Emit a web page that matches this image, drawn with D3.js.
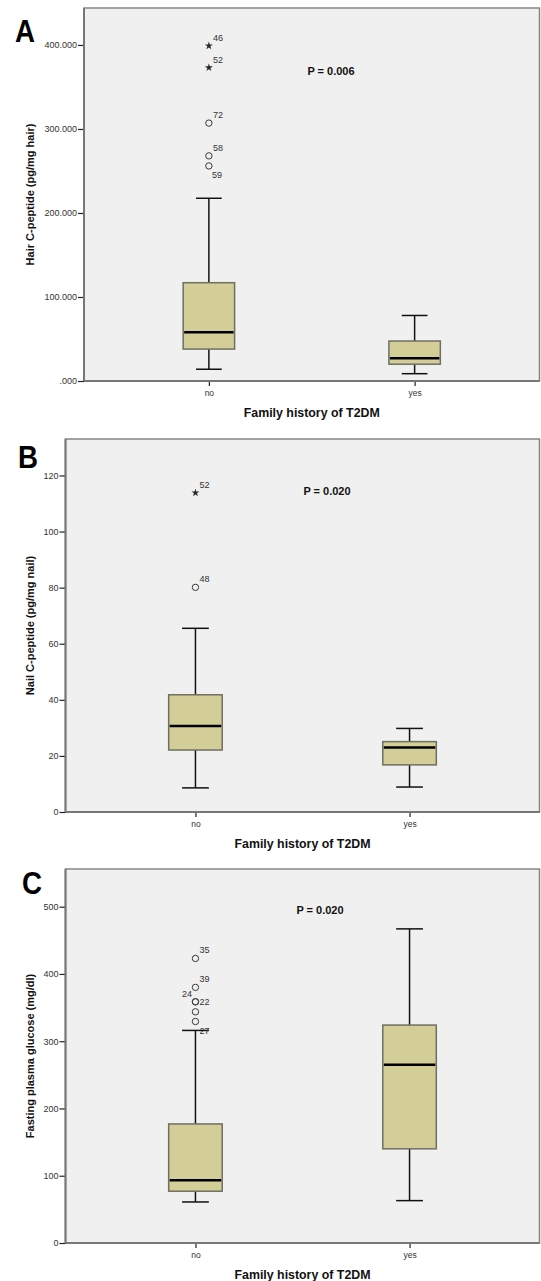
<!DOCTYPE html>
<html>
<head>
<meta charset="utf-8">
<script src="https://cdn.jsdelivr.net/npm/d3@7"></script>
<style>
  body { margin: 0; background: #fff; }
  svg { display: block; font-family: "Liberation Sans", Arial, sans-serif; }
</style>
</head>
<body>
<svg id="chart" width="541" height="1281"></svg>
<script>
const groups = ["no", "yes"];

// [lower whisker, Q1, median, Q3, upper whisker] for "no" and "yes"
const hairBoxes = [[14, 38, 58, 117, 217.5], [8.7, 20, 27, 47.6, 78]];
const hairOutliers = [
  { group: "no", id: "46", value: 399, shape: "star" },
  { group: "no", id: "52", value: 373, shape: "star" },
  { group: "no", id: "72", value: 307, shape: "circle" },
  { group: "no", id: "58", value: 268, shape: "circle" },
  { group: "no", id: "59", value: 256, shape: "circle" }
];
const hairTicks = [0, 100, 200, 300, 400];
const hairMax = 444;

const nailBoxes = [[8.6, 22.1, 30.7, 41.8, 65.5], [8.9, 16.8, 23, 25.1, 29.8]];
const nailOutliers = [
  { group: "no", id: "52", value: 113.8, shape: "star" },
  { group: "no", id: "48", value: 80.1, shape: "circle" }
];
const nailTicks = [0, 20, 40, 60, 80, 100, 120];
const nailMax = 133;

const glucoseBoxes = [[61, 77, 93.3, 177, 316], [63, 140, 265, 324, 467]];
const glucoseOutliers = [
  { group: "no", id: "35", value: 423, shape: "circle" },
  { group: "no", id: "39", value: 380, shape: "circle" },
  { group: "no", id: "24", value: 358.6, shape: "circle" },
  { group: "no", id: "22", value: 358.6, shape: "circle" },
  { group: "no", id: "", value: 343.7, shape: "circle" },
  { group: "no", id: "", value: 329.3, shape: "circle" },
  { group: "no", id: "27", value: 316.5, shape: "none" }
];
const glucoseTicks = [0, 100, 200, 300, 400, 500];
const glucoseMax = 556;

const pValues = ["P = 0.006", "P = 0.020", "P = 0.020"];
const yTitles = ["Hair C-peptide (pg/mg hair)", "Nail C-peptide (pg/mg nail)", "Fasting plasma glucose (mg/dl)"];
const xTitle = "Family history of T2DM";

const svg = d3.select("#chart");

const spssFmt = d => d3.format(".3f")(d).replace(/^0/, "");

const panels = [
  { letter: "A", boxes: hairBoxes, outliers: hairOutliers, ticks: hairTicks, max: hairMax, fmt: spssFmt,
    left: 84, top: 8, bottom: 381, pX: 331, pY: 74.5, lx: 15, ly: 42 },
  { letter: "B", boxes: nailBoxes, outliers: nailOutliers, ticks: nailTicks, max: nailMax, fmt: d3.format("d"),
    left: 65.5, top: 439, bottom: 812, pX: 327, pY: 495, lx: 18, ly: 468 },
  { letter: "C", boxes: glucoseBoxes, outliers: glucoseOutliers, ticks: glucoseTicks, max: glucoseMax, fmt: d3.format("d"),
    left: 65.5, top: 869, bottom: 1243, pX: 320, pY: 914, lx: 22, ly: 894 }
];
const right = 539.5;

// where each outlier label sits relative to its point
const labelSide = { A59: "below", C24: "left", C22: "right", C27: "right" };
const labelOffset = {
  above: { dx: 4, dy: -5, anchor: "start" },
  below: { dx: 3, dy: 12, anchor: "start" },
  right: { dx: 4, dy: 3.5, anchor: "start" },
  left: { dx: -3.5, dy: -5, anchor: "end" }
};

panels.forEach((p, i) => {
  const g = svg.append("g");

  const x = d3.scalePoint().domain(groups).range([p.left, right]).padding(0.607);
  const y = d3.scaleLinear().domain([0, p.max]).range([p.bottom, p.top]);
  const boxW = x.step() * 0.25;

  g.append("rect")
    .attr("x", p.left).attr("y", p.top)
    .attr("width", right - p.left).attr("height", p.bottom - p.top)
    .attr("fill", "#f0f0f0")
    .attr("stroke", "#858585")
    .attr("stroke-width", 1.5);

  // boxes
  groups.forEach((grp, j) => {
    const [lo, q1, med, q3, hi] = p.boxes[j];
    const cx = x(grp);
    const bg = g.append("g");
    bg.append("line")
      .attr("x1", cx).attr("x2", cx).attr("y1", y(q3)).attr("y2", y(hi))
      .attr("stroke", "#111").attr("stroke-width", 1.5);
    bg.append("line")
      .attr("x1", cx).attr("x2", cx).attr("y1", y(q1)).attr("y2", y(lo))
      .attr("stroke", "#111").attr("stroke-width", 1.5);
    [lo, hi].forEach(v => {
      bg.append("line")
        .attr("x1", cx - boxW / 4).attr("x2", cx + boxW / 4)
        .attr("y1", y(v)).attr("y2", y(v))
        .attr("stroke", "#111").attr("stroke-width", 1.5);
    });
    bg.append("rect")
      .attr("x", cx - boxW / 2).attr("y", y(q3))
      .attr("width", boxW).attr("height", y(q1) - y(q3))
      .attr("fill", "#d3ce97")
      .attr("stroke", "#6f6f62")
      .attr("stroke-width", 1.5);
    bg.append("line")
      .attr("x1", cx - boxW / 2 + 1).attr("x2", cx + boxW / 2 - 1)
      .attr("y1", y(med)).attr("y2", y(med))
      .attr("stroke", "#000").attr("stroke-width", 2.5);
  });

  // outliers
  const og = g.append("g");
  p.outliers.forEach(o => {
    const ox = x(o.group), oy = y(o.value);
    if (o.shape === "circle") {
      og.append("circle").attr("cx", ox).attr("cy", oy).attr("r", 3.2)
        .attr("fill", "none").attr("stroke", "#3a3a3a").attr("stroke-width", 1);
    } else if (o.shape === "star") {
      og.append("path")
        .attr("d", d3.symbol(d3.symbolStar, 20)())
        .attr("transform", `translate(${ox},${oy})`)
        .attr("fill", "#2a2a2a");
    }
    if (o.id) {
      const off = labelOffset[labelSide[p.letter + o.id] || "above"];
      og.append("text")
        .attr("x", ox + off.dx).attr("y", oy + off.dy)
        .attr("text-anchor", off.anchor)
        .attr("font-size", 9).attr("fill", "#333")
        .text(o.id);
    }
  });

  // axes
  const ya = g.append("g")
    .attr("transform", `translate(${p.left},0)`)
    .call(d3.axisLeft(y).tickValues(p.ticks).tickFormat(p.fmt).tickSize(6).tickPadding(1));
  ya.select(".domain").remove();
  ya.selectAll("line").attr("stroke", "#222").attr("stroke-width", 1.2);
  ya.selectAll("text").attr("font-size", 9).attr("fill", "#333")
    .attr("font-family", "Liberation Sans, Arial, sans-serif");

  const xa = g.append("g")
    .attr("transform", `translate(0,${p.bottom})`)
    .call(d3.axisBottom(x).tickSize(5).tickPadding(4));
  xa.select(".domain").remove();
  xa.selectAll("line").attr("stroke", "#222").attr("stroke-width", 1.2);
  xa.selectAll("text").attr("font-size", 8.5).attr("fill", "#333")
    .attr("font-family", "Liberation Sans, Arial, sans-serif");

  // left and bottom axis lines on top of the frame
  g.append("line")
    .attr("x1", p.left).attr("x2", right).attr("y1", p.bottom).attr("y2", p.bottom)
    .attr("stroke", "#777").attr("stroke-width", 2);
  g.append("line")
    .attr("x1", p.left).attr("x2", p.left).attr("y1", p.top).attr("y2", p.bottom)
    .attr("stroke", "#777").attr("stroke-width", 2);

  // titles
  g.append("text")
    .attr("transform", `translate(33.5,${(p.top + p.bottom) / 2}) rotate(-90)`)
    .attr("text-anchor", "middle")
    .attr("font-size", 11).attr("font-weight", "bold").attr("fill", "#111")
    .text(yTitles[i]);

  // the original uses a condensed bold face, so squeeze it to the measured width
  g.append("text")
    .attr("x", (p.left + right) / 2 - 68).attr("y", p.bottom + 35.5)
    .attr("font-size", 12.5).attr("font-weight", "bold").attr("fill", "#111")
    .attr("textLength", 136).attr("lengthAdjust", "spacingAndGlyphs")
    .text(xTitle);

  g.append("text")
    .attr("x", p.pX).attr("y", p.pY)
    .attr("text-anchor", "middle")
    .attr("font-size", 11).attr("font-weight", "bold").attr("fill", "#111")
    .text(pValues[i]);

  svg.append("text")
    .attr("x", p.lx).attr("y", p.ly)
    .attr("font-size", 32).attr("font-weight", "bold").attr("fill", "#000")
    .attr("textLength", 20).attr("lengthAdjust", "spacingAndGlyphs")
    .text(p.letter);
});
</script>
</body>
</html>
